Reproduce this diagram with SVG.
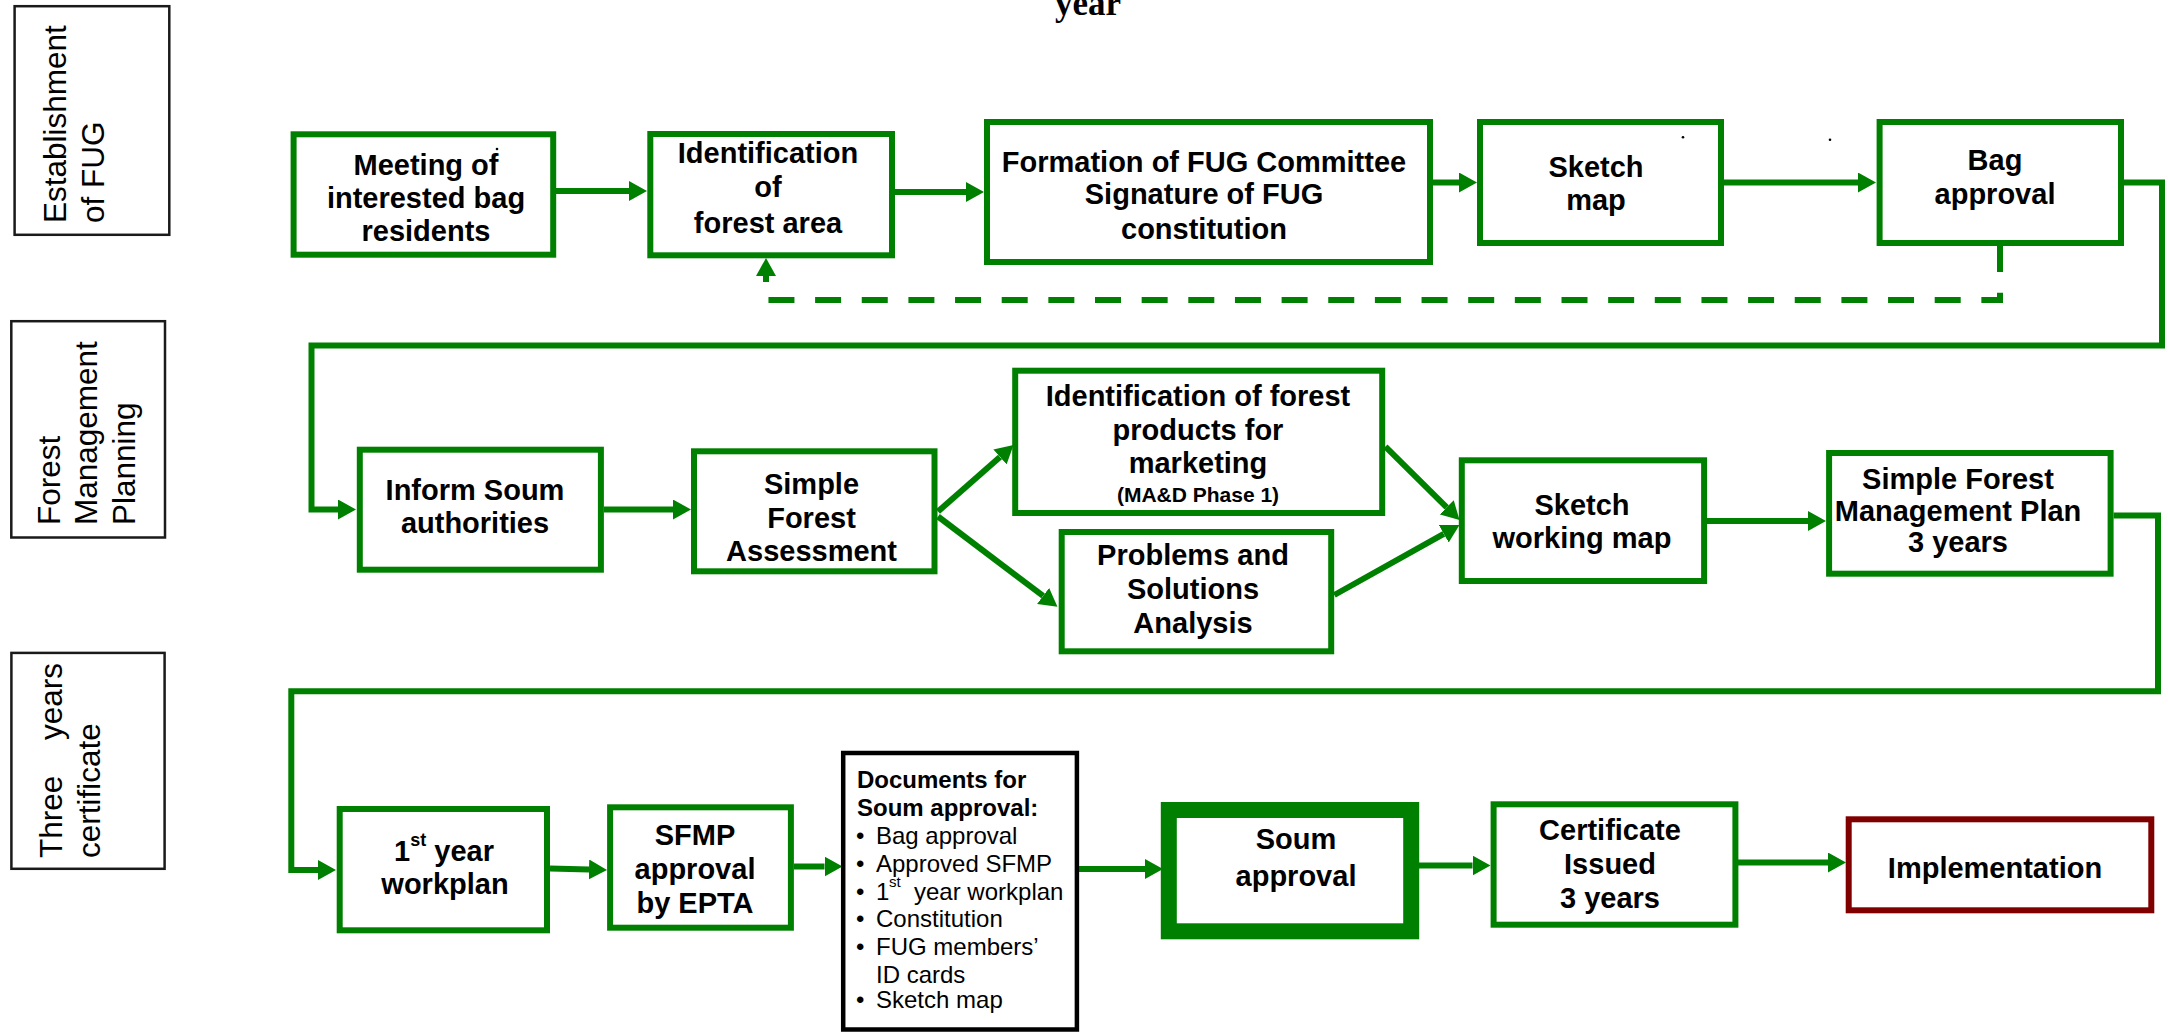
<svg xmlns="http://www.w3.org/2000/svg" width="2168" height="1033" viewBox="0 0 2168 1033">
  <style>
    .box { fill: #ffffff; stroke: #008000; stroke-width: 6; }
    .doc { fill: #ffffff; stroke: #000000; stroke-width: 4.5; }
    .thick { fill: #ffffff; stroke: #008000; stroke-width: 16; }
    .goal { fill: #ffffff; stroke: #800000; stroke-width: 6; }
    .lane { fill: #ffffff; stroke: #1a1a1a; stroke-width: 2.5; }
    .t { font-family: "Liberation Sans", Arial, sans-serif; font-weight: bold; font-size: 29px; fill: #000000; text-anchor: middle; }
    .lt { font-family: "Liberation Sans", Arial, sans-serif; font-size: 31.5px; fill: #000000; }
    .dt { font-family: "Liberation Sans", Arial, sans-serif; font-size: 24px; fill: #000000; }
    .dh { font-family: "Liberation Sans", Arial, sans-serif; font-size: 24px; font-weight: bold; fill: #000000; }
    .ttl { font-family: "Liberation Serif", "Times New Roman", serif; font-weight: bold; font-size: 35px; fill: #000000; text-anchor: middle; }
    .c { fill: none; stroke: #008000; stroke-width: 6; marker-end: url(#head); }
    .dash { fill: none; stroke: #008000; stroke-width: 6; stroke-dasharray: 26 20.65; }
  </style>
  <defs>
    <marker id="head" markerUnits="userSpaceOnUse" viewBox="0 0 18 20" refX="0" refY="10" markerWidth="18" markerHeight="20" orient="auto">
      <path d="M0,0 L18,10 L0,20 z" fill="#008000"/>
    </marker>
  </defs>

  <rect width="2168" height="1033" fill="#ffffff"/>

  <!-- heading fragment at the top edge -->
  <text class="ttl" x="1088" y="14.5">year</text>

  <!-- phase labels -->
  <g id="lane-establishment">
    <rect class="lane" x="14.6" y="6.2" width="154.7" height="228.6"/>
    <text class="lt" transform="translate(66,223) rotate(-90)">Establishment</text>
    <text class="lt" transform="translate(104,223) rotate(-90)">of FUG</text>
  </g>
  <g id="lane-planning">
    <rect class="lane" x="11.3" y="321.2" width="153.7" height="216.3"/>
    <text class="lt" transform="translate(60,525) rotate(-90)">Forest</text>
    <text class="lt" transform="translate(97,525) rotate(-90)">Management</text>
    <text class="lt" transform="translate(135,525) rotate(-90)">Planning</text>
  </g>
  <g id="lane-certificate">
    <rect class="lane" x="11.4" y="652.9" width="153.2" height="215.9"/>
    <text class="lt" transform="translate(62,858) rotate(-90)"><tspan x="0">Three</tspan><tspan x="195" text-anchor="end">years</tspan></text>
    <text class="lt" transform="translate(100,858) rotate(-90)">certificate</text>
  </g>

  <!-- connectors -->
  <g id="connectors">
    <path class="c" d="M556,191 H629"/>
    <path class="c" d="M895,192 H966"/>
    <path class="c" d="M1433,182.5 H1459"/>
    <path class="c" d="M1724,182.5 H1858"/>
    <path class="dash" d="M2000,246 V300 H766"/>
    <path class="c" d="M766,282 V276"/>
    <path class="c" d="M2124,182.5 H2162 V345.5 H311.5 V509.5 H338"/>
    <path class="c" d="M604,509.5 H673"/>
    <path class="c" d="M938,511.5 L1000,456.9"/>
    <path class="c" d="M938,516.5 L1043.1,595.9"/>
    <path class="c" d="M1385.4,446.7 L1446.7,507.3"/>
    <path class="c" d="M1334.3,595 L1443.8,533.8"/>
    <path class="c" d="M1707,521 H1808"/>
    <path class="c" d="M2113.6,515.5 H2158 V691.3 H291.3 V870 H318"/>
    <path class="c" d="M550,868.5 L589,869.5"/>
    <path class="c" d="M794,866.5 H824.5"/>
    <path class="c" d="M1079,869 H1145"/>
    <path class="c" d="M1419,865.5 H1472.5"/>
    <path class="c" d="M1738,862.5 H1828"/>
  </g>

  <!-- row 1: establishment of the FUG -->
  <g id="meeting">
    <rect class="box" x="293.6" y="134.3" width="259.6" height="120.4"/>
    <text class="t" x="426"><tspan x="426" y="175">Meeting of</tspan><tspan x="426" y="208.3">interested bag</tspan><tspan x="426" y="240.7">residents</tspan></text>
    <circle cx="497" cy="149" r="1.3" fill="#000000"/>
  </g>
  <g id="identification">
    <rect class="box" x="650.3" y="134" width="241.7" height="121.3"/>
    <text class="t"><tspan x="768" y="163.3">Identification</tspan><tspan x="768" y="196.7">of</tspan><tspan x="768" y="233.3">forest area</tspan></text>
  </g>
  <g id="formation">
    <rect class="box" x="987" y="122" width="443" height="140"/>
    <text class="t"><tspan x="1204" y="171.7">Formation of FUG Committee</tspan><tspan x="1204" y="204">Signature of FUG</tspan><tspan x="1204" y="239.3">constitution</tspan></text>
  </g>
  <g id="sketch-map">
    <rect class="box" x="1480" y="122" width="241" height="121"/>
    <text class="t"><tspan x="1596" y="176.7">Sketch</tspan><tspan x="1596" y="210">map</tspan></text>
    <circle cx="1683" cy="137.3" r="1.3" fill="#000000"/>
    <circle cx="1830" cy="139.7" r="1.3" fill="#000000"/>
  </g>
  <g id="bag-approval">
    <rect class="box" x="1879.6" y="122" width="241.4" height="121"/>
    <text class="t"><tspan x="1995" y="170">Bag</tspan><tspan x="1995" y="204">approval</tspan></text>
  </g>

  <!-- row 2: forest management planning -->
  <g id="inform-soum">
    <rect class="box" x="359.8" y="449.7" width="241.1" height="120"/>
    <text class="t"><tspan x="475" y="500">Inform Soum</tspan><tspan x="475" y="533.3">authorities</tspan></text>
  </g>
  <g id="forest-assessment">
    <rect class="box" x="694" y="451.3" width="240.5" height="120"/>
    <text class="t"><tspan x="811.5" y="494">Simple</tspan><tspan x="811.5" y="528.3">Forest</tspan><tspan x="811.5" y="560.7">Assessment</tspan></text>
  </g>
  <g id="forest-products">
    <rect class="box" x="1015.2" y="370.7" width="367" height="142.3"/>
    <text class="t"><tspan x="1198" y="406">Identification of forest</tspan><tspan x="1198" y="440">products for</tspan><tspan x="1198" y="473.3">marketing</tspan><tspan x="1198" y="501.7" font-size="21">(MA&amp;D Phase 1)</tspan></text>
  </g>
  <g id="problems">
    <rect class="box" x="1061.7" y="532" width="269.5" height="119.3"/>
    <text class="t"><tspan x="1193" y="565">Problems and</tspan><tspan x="1193" y="599.3">Solutions</tspan><tspan x="1193" y="633.3">Analysis</tspan></text>
  </g>
  <g id="sketch-working-map">
    <rect class="box" x="1461.8" y="460.3" width="242.3" height="120.7"/>
    <text class="t"><tspan x="1582" y="515">Sketch</tspan><tspan x="1582" y="548.3">working map</tspan></text>
  </g>
  <g id="management-plan">
    <rect class="box" x="1829.1" y="453" width="281.5" height="120.7"/>
    <text class="t" font-size="26.5"><tspan x="1958" y="489.3">Simple Forest</tspan><tspan x="1958" y="521">Management Plan</tspan><tspan x="1958" y="551.7">3 years</tspan></text>
  </g>

  <!-- row 3: three years certificate -->
  <g id="first-workplan">
    <rect class="box" x="339.7" y="809" width="207.3" height="121.3"/>
    <text class="t" x="444" y="860.7">1<tspan dy="-14.7" font-size="18">st</tspan><tspan dy="14.7"> year</tspan></text>
    <text class="t" x="445" y="894">workplan</text>
  </g>
  <g id="sfmp-approval">
    <rect class="box" x="610.1" y="807.3" width="180.8" height="120.4"/>
    <text class="t"><tspan x="695" y="845">SFMP</tspan><tspan x="695" y="879.3">approval</tspan><tspan x="695" y="913.3">by EPTA</tspan></text>
  </g>
  <g id="documents">
    <rect class="doc" x="843.2" y="753" width="233.7" height="276.5"/>
    <text class="dh"><tspan x="857" y="788.3">Documents for</tspan><tspan x="857" y="816">Soum approval:</tspan></text>
    <text class="dt">
      <tspan x="856" y="844.3">•</tspan><tspan x="876" y="844.3">Bag approval</tspan>
      <tspan x="856" y="871.7">•</tspan><tspan x="876" y="871.7">Approved SFMP</tspan>
      <tspan x="856" y="900">•</tspan><tspan x="876" y="900">1</tspan><tspan x="889" y="886.7" font-size="15">st</tspan><tspan x="914" y="900">year workplan</tspan>
      <tspan x="856" y="926.7">•</tspan><tspan x="876" y="926.7">Constitution</tspan>
      <tspan x="856" y="955">•</tspan><tspan x="876" y="955">FUG members’</tspan>
      <tspan x="876" y="982.7">ID cards</tspan>
      <tspan x="856" y="1008.3">•</tspan><tspan x="876" y="1008.3">Sketch map</tspan>
    </text>
  </g>
  <g id="soum-approval">
    <rect class="thick" x="1168.8" y="810" width="242.4" height="121.3"/>
    <text class="t" font-size="32"><tspan x="1296" y="849.3">Soum</tspan><tspan x="1296" y="886">approval</tspan></text>
  </g>
  <g id="certificate">
    <rect class="box" x="1493.6" y="804.3" width="241.8" height="120.4"/>
    <text class="t"><tspan x="1610" y="840">Certificate</tspan><tspan x="1610" y="874">Issued</tspan><tspan x="1610" y="908.3">3 years</tspan></text>
  </g>
  <g id="implementation">
    <rect class="goal" x="1848.7" y="819.3" width="302.6" height="91"/>
    <text class="t" font-size="32" x="1995" y="878.3">Implementation</text>
  </g>
</svg>
